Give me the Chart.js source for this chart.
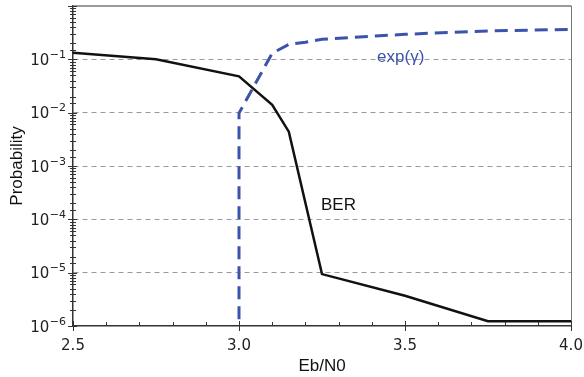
<!DOCTYPE html>
<html><head><meta charset="utf-8">
<script src="https://cdn.jsdelivr.net/npm/chart.js@4/dist/chart.umd.min.js"></script>
<style>html,body{margin:0;padding:0;background:#fff;}#wrap{width:584px;height:377px;}</style>
</head><body><div id="wrap"><canvas id="c" width="584" height="377"></canvas></div>
<script>
// ---- data ----
const berX = [2.5, 2.75, 3.0, 3.1, 3.15, 3.25, 3.5, 3.75, 4.0];
const berY = [0.133, 0.1, 0.048, 0.014, 0.0044, 9.4e-6, 3.7e-6, 1.23e-6, 1.23e-6];
const expX = [3.0, 3.0, 3.1, 3.15, 3.2, 3.25, 3.5, 3.75, 4.0];
const expY = [1e-7, 0.0098, 0.13, 0.19, 0.21, 0.237, 0.295, 0.34, 0.365];
const xTickLabels = [2.5, 3.0, 3.5, 4.0];
const yExponents = [-6, -5, -4, -3, -2, -1];
const seriesLabels = ['BER', 'exp(\u03b3)'];
const xTitle = 'Eb/N0';
const yTitle = 'Probability';

const BLUE = '#3c53ab';
const TICKFONT = '"DejaVu Sans", Verdana, sans-serif';
const TEXTFONT = '"Liberation Sans", Arial, Helvetica, sans-serif';

const toPts = (xs, ys) => xs.map((x, i) => ({x: x, y: ys[i]}));

const decor = {
  id: 'decor',
  afterDraw(chart) {
    const {ctx, chartArea: a, scales: {x, y}} = chart;
    ctx.save();
    // top & right frame
    ctx.strokeStyle = '#9a9a9a'; ctx.lineWidth = 2;
    ctx.beginPath(); ctx.moveTo(a.left, a.top); ctx.lineTo(a.right + 0.5, a.top); ctx.stroke();
    ctx.strokeStyle = '#777'; ctx.lineWidth = 1;
    ctx.beginPath(); ctx.moveTo(a.right + 0.5, a.top); ctx.lineTo(a.right + 0.5, a.bottom); ctx.stroke();
    // y tick marks
    ctx.strokeStyle = '#333'; ctx.lineWidth = 1;
    y.ticks.forEach(t => {
      const py = Math.round(y.getPixelForValue(t.value)) + 0.5;
      const maj = t.major;
      ctx.beginPath(); ctx.moveTo(a.left - (maj ? 5 : 3), py); ctx.lineTo(a.left + (maj ? 4 : 3), py); ctx.stroke();
    });
    // x tick marks
    x.ticks.forEach(t => {
      const px = Math.round(x.getPixelForValue(t.value)) + 0.5;
      const maj = Math.abs(t.value * 2 - Math.round(t.value * 2)) < 1e-6;
      ctx.beginPath(); ctx.moveTo(px, a.bottom - (maj ? 5 : 4)); ctx.lineTo(px, a.bottom + (maj ? 5 : 0)); ctx.stroke();
    });
    // y tick labels 10^n
    ctx.fillStyle = '#222';
    ctx.textBaseline = 'alphabetic';
    yExponents.forEach(e => {
      const py = y.getPixelForValue(Math.pow(10, e));
      const ex = '\u2212' + Math.abs(e);
      ctx.font = '11px ' + TICKFONT;
      const ew = ctx.measureText(ex).width;
      const right = a.left - 7;
      ctx.textAlign = 'right';
      ctx.fillText(ex, right, py - 1.5);
      ctx.font = '15px ' + TICKFONT;
      ctx.fillText('10', right - ew - 0.5, py + 5.5);
    });
    // series labels
    ctx.font = '17px ' + TEXTFONT;
    ctx.textAlign = 'left';
    ctx.textBaseline = 'middle';
    ctx.fillStyle = '#111';
    ctx.fillText(seriesLabels[0], x.getPixelForValue(3.247), y.getPixelForValue(1.8e-4));
    ctx.fillStyle = BLUE;
    ctx.fillText(seriesLabels[1], x.getPixelForValue(3.416), y.getPixelForValue(0.11));
    ctx.restore();
  }
};

new Chart(document.getElementById('c'), {
  type: 'line',
  data: {
    datasets: [
      {label: seriesLabels[0], data: toPts(berX, berY), borderColor: '#111', borderWidth: 2.5,
       pointRadius: 0, tension: 0, fill: false, clip: 0},
      {label: seriesLabels[1], data: toPts(expX, expY), borderColor: BLUE, borderWidth: 3,
       borderDash: [13, 7], pointRadius: 0, tension: 0, fill: false, clip: 0}
    ]
  },
  options: {
    responsive: false, animation: false, devicePixelRatio: 1,
    layout: {padding: {top: 6, right: 13, left: 0, bottom: 0}},
    plugins: {legend: {display: false}, tooltip: {enabled: false}},
    scales: {
      x: {
        type: 'linear', min: 2.5, max: 4.0,
        ticks: {stepSize: 0.1, autoSkip: false, maxRotation: 0, padding: 11, color: '#222',
          font: {family: TICKFONT, size: 15},
          callback: v => (xTickLabels.some(l => Math.abs(l - v) < 1e-6)) ? v.toFixed(1) : ''},
        grid: {drawOnChartArea: false, drawTicks: false},
        border: {color: '#333', width: 1.5},
        title: {display: true, text: xTitle, color: '#111', padding: {top: 0, bottom: 0},
          font: {family: TEXTFONT, size: 17}},
        afterFit: s => { s.height = 51; s.paddingLeft = 0; s.paddingRight = 0; }
      },
      y: {
        type: 'logarithmic', min: 1e-6, max: 1,
        ticks: {display: false, autoSkip: false},
        grid: {drawTicks: false, lineWidth: 1,
          color: c => (c.tick && c.tick.major && c.tick.value > 1.5e-6 && c.tick.value < 0.9) ? '#9a9a9a' : 'rgba(0,0,0,0)'},
        border: {color: '#333', width: 1.5, dash: [5, 4]},
        title: {display: true, text: yTitle, color: '#111', padding: {top: 7.5, bottom: 0},
          font: {family: TEXTFONT, size: 17}},
        afterFit: s => { s.width = 73; s.paddingTop = 0; s.paddingBottom = 0; }
      }
    }
  },
  plugins: [decor]
});
</script></body></html>
